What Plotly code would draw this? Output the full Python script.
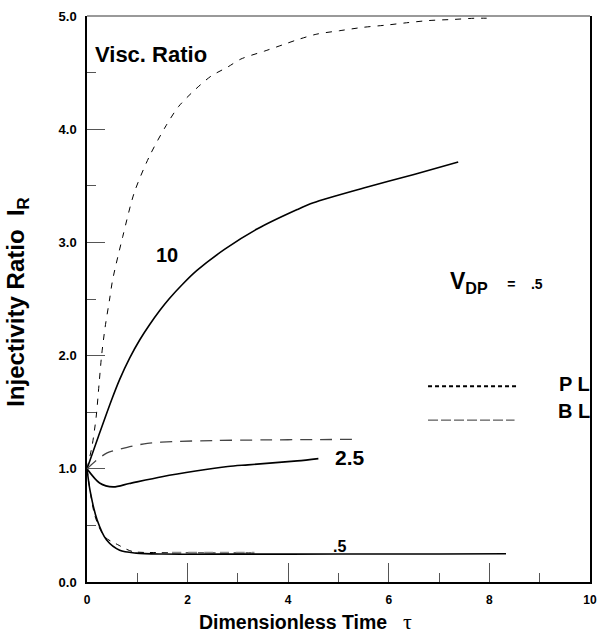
import plotly.graph_objects as go

# ---- data ----
pl10_x = [0, 0.1, 0.18, 0.24, 0.29, 0.36, 0.45, 0.51, 0.71, 0.94, 1.24, 1.57, 1.82, 2.15, 2.47, 2.8, 3.06,
          3.53, 3.92, 4.18, 4.57, 5.02, 5.49, 5.96, 6.35, 6.8, 7.3, 7.7, 8.04]
pl10_y = [1.0, 1.2, 1.45, 1.75, 2.0, 2.25, 2.5, 2.67, 3.05, 3.44, 3.76, 4.03, 4.2, 4.35, 4.47, 4.55, 4.62,
          4.69, 4.75, 4.79, 4.84, 4.87, 4.9, 4.92, 4.94, 4.96, 4.97, 4.98, 4.98]

bl10_x = [0, 0.23, 0.49, 0.65, 0.85, 1.05, 1.24, 1.45, 1.63, 1.9, 2.18, 2.74, 3.39, 4.18, 4.5, 5.5, 6.5, 7.38]
bl10_y = [1.0, 1.29, 1.61, 1.79, 1.98, 2.14, 2.27, 2.4, 2.5, 2.63, 2.75, 2.94, 3.12, 3.29, 3.35, 3.48, 3.6, 3.71]

pl25_x = [0, 0.2, 0.4, 0.8, 1.2, 1.7, 2.57, 3.5, 4.5, 5.35]
pl25_y = [1.0, 1.08, 1.14, 1.19, 1.225, 1.24, 1.25, 1.255, 1.258, 1.26]

bl25_x = [0, 0.25, 0.52, 0.84, 1.49, 2.16, 2.8, 3.2, 4.18, 4.6]
bl25_y = [1.0, 0.875, 0.84, 0.87, 0.93, 0.98, 1.02, 1.035, 1.07, 1.09]

pl05_x = [0, 0.16, 0.35, 0.61, 0.9, 1.37, 1.69, 2.5, 3.33]
pl05_y = [1.0, 0.58, 0.4, 0.33, 0.27, 0.26, 0.258, 0.257, 0.257]

bl05_x = [0, 0.06, 0.2, 0.39, 0.65, 0.98, 1.5, 3.0, 5.0, 7.0, 8.33]
bl05_y = [1.0, 0.81, 0.55, 0.37, 0.28, 0.255, 0.247, 0.246, 0.247, 0.248, 0.249]

x_ticks = [0, 2, 4, 6, 8, 10]
y_ticks = [0.0, 1.0, 2.0, 3.0, 4.0, 5.0]

FONT = "Liberation Sans, Arial, sans-serif"

fig = go.Figure()

def add(x, y, width, dash, color="black", smoothing=0.8):
    fig.add_trace(go.Scatter(
        x=x, y=y, mode="lines", showlegend=False, hoverinfo="skip",
        line=dict(color=color, width=width, dash=dash, shape="spline", smoothing=smoothing),
    ))

add(pl10_x, pl10_y, 1, "6px,7px")
add(bl10_x, bl10_y, 1.6, "solid")
add(pl25_x, pl25_y, 1.3, "12px,8px", color="#444")
add(bl25_x, bl25_y, 1.6, "solid")
add(pl05_x, pl05_y, 1, "6px,6px")
add(pl05_x[6:], pl05_y[6:], 2.2, "9px,7px", color="#888")
add(bl05_x, bl05_y, 1.6, "solid")

sp = "&nbsp;"
annotations = [
    dict(x=0.12, y=4.66, text="<b>Visc. Ratio</b>", xanchor="left", yanchor="middle", font=dict(size=22)),
    dict(x=1.59, y=2.89, text="<b>10</b>", xanchor="center", yanchor="middle", font=dict(size=20)),
    dict(x=4.9, y=1.1, text="<b>2.5</b>", xanchor="left", yanchor="middle", font=dict(size=21)),
    dict(x=4.85, y=0.31, text="<b>.5</b>", xanchor="left", yanchor="middle", font=dict(size=16)),
    dict(x=7.18, y=2.65,
         text="<b>V<sub>DP</sub></b><span style='font-size:14px'><b>" + sp * 5 + "=" + sp * 4 + ".5</b></span>",
         xanchor="left", yanchor="middle", font=dict(size=23)),
    dict(x=0.985, y=(1.75 / 5), xref="paper", yref="paper", xshift=10, text="<b>P L</b>",
         xanchor="right", yanchor="middle", font=dict(size=20)),
    dict(x=0.985, y=(1.51 / 5), xref="paper", yref="paper", xshift=10, text="<b>B L</b>",
         xanchor="right", yanchor="middle", font=dict(size=20)),
    dict(x=0, y=0.495, xref="paper", yref="paper", xshift=-69,
         text="<b>Injectivity Ratio" + sp * 2 + "I<sub>R</sub></b>", textangle=-90,
         xanchor="center", yanchor="middle", font=dict(size=24)),
    dict(x=0.2196, y=0, xref="paper", yref="paper", yshift=-40,
         text="<b>Dimensionless Time</b>", xanchor="left", yanchor="middle", font=dict(size=19.5)),
    dict(x=0.637, y=0, xref="paper", yref="paper", yshift=-39,
         text="τ", xanchor="center", yanchor="middle",
         font=dict(size=22, family="Liberation Serif, DejaVu Serif, serif")),
]
for a in annotations:
    a.setdefault("xref", "x")
    a.setdefault("yref", "y")
    a["showarrow"] = False
    a["font"].setdefault("family", FONT)
    a["font"]["color"] = "black"

fig.update_layout(
    width=605, height=637,
    margin=dict(l=87, r=8, t=16, b=55),
    paper_bgcolor="white", plot_bgcolor="white",
    font=dict(family=FONT, color="black"),
    annotations=annotations,
    shapes=[
        dict(type="line", xref="x", yref="y", x0=6.78, x1=8.53, y0=1.73, y1=1.73,
             line=dict(color="black", width=2, dash="4px,3px")),
        dict(type="line", xref="x", yref="y", x0=6.78, x1=8.5, y0=1.43, y1=1.43,
             line=dict(color="#333", width=1, dash="10px,3px")),
        dict(type="line", xref="paper", yref="paper", x0=0, x1=1, y0=1, y1=1,
             line=dict(color="#777", width=1.5)),
    ],
    xaxis=dict(
        range=[0, 10], tickvals=x_ticks, ticktext=[str(v) for v in x_ticks],
        ticks="inside", ticklen=19, tickcolor="#555", tickwidth=1.2,
        minor=dict(dtick=1, ticks="inside", ticklen=9, tickcolor="#555", tickwidth=1.2),
        showline=True, linecolor="black", linewidth=1.5, mirror=False,
        showgrid=False, zeroline=False, ticklabelstandoff=6,
        tickfont=dict(size=12, family=FONT, weight="bold"),
    ),
    yaxis=dict(
        range=[0, 5], tickvals=y_ticks, ticktext=["%.1f" % v for v in y_ticks],
        ticks="inside", ticklen=18, tickcolor="#555", tickwidth=1.2,
        minor=dict(dtick=0.5, ticks="inside", ticklen=9, tickcolor="#555", tickwidth=1.2),
        showline=True, linecolor="black", linewidth=1.5, mirror=True,
        showgrid=False, zeroline=False, ticklabelstandoff=6,
        tickfont=dict(size=13, family=FONT, weight="bold"),
    ),
)

fig.write_html("out.html")
